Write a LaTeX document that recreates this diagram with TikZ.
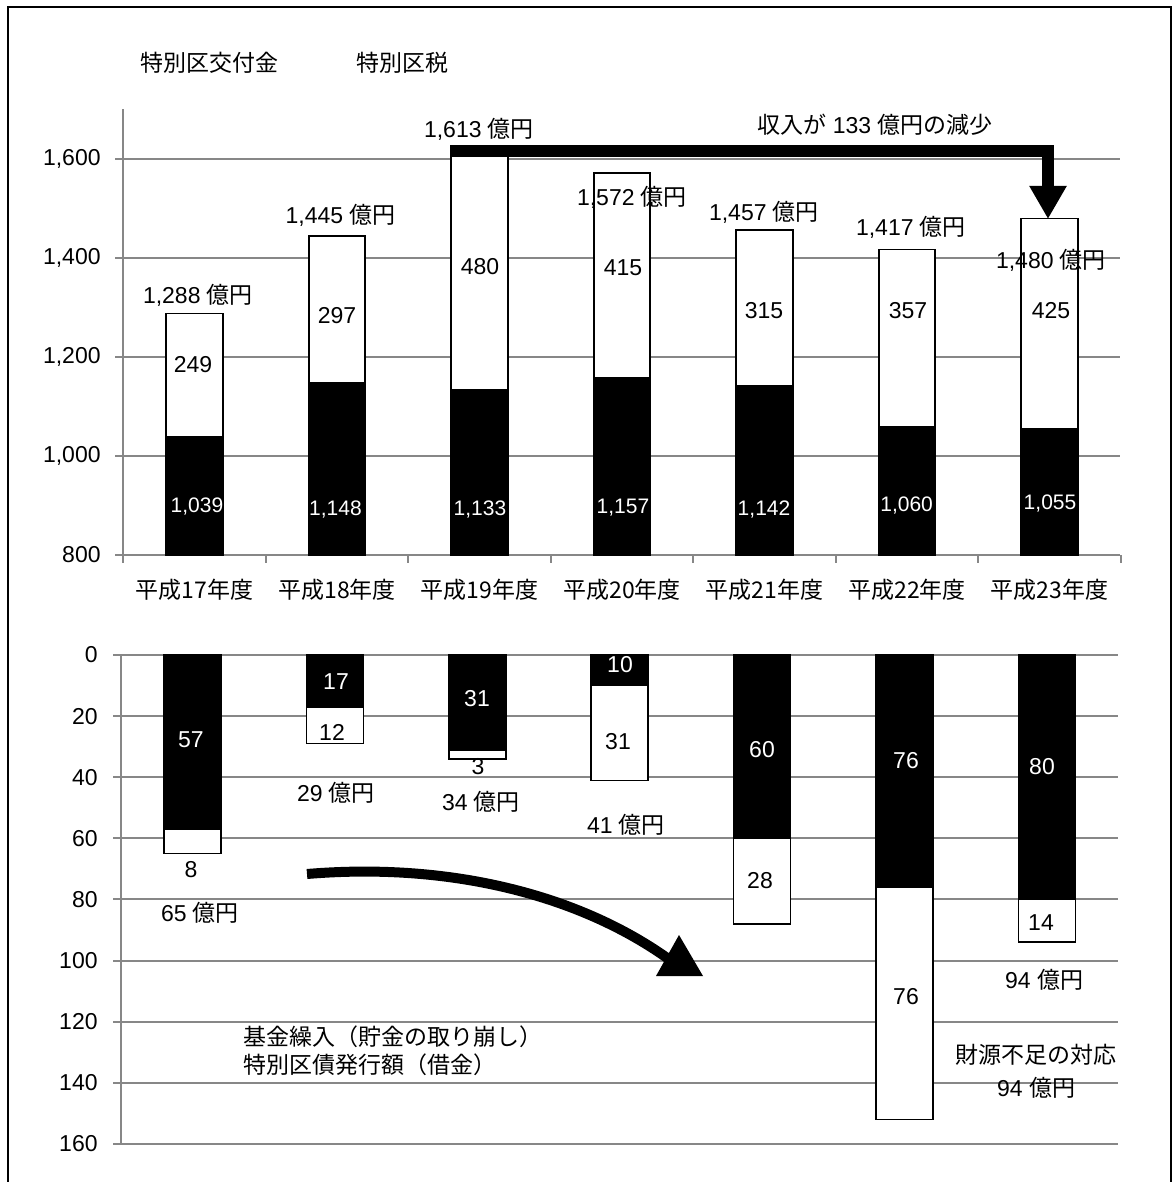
\documentclass[tikz,border=0pt]{standalone}
\usepackage{fontspec}
\setmainfont{Liberation Sans}
\newfontfamily\jp{Noto Sans CJK JP}
\usetikzlibrary{arrows.meta}
\tikzset{
  gridline/.style={draw=black!47, line width=1pt},
  lbl/.style={inner sep=0pt, font=\fontsize{11.5}{13}\selectfont},
  wlbl/.style={lbl, text=white},
  wsmall/.style={inner sep=0pt, text=white, font=\fontsize{10.5}{12}\selectfont},
  whitebar/.style={fill=white, draw=black, line width=0.8pt},
  blackbar/.style={fill=black, draw=black, line width=0.8pt},
}
\begin{document}
\begin{tikzpicture}[x=0.5pt, y=-0.5pt]
  \useasboundingbox (0,0) rectangle (1173,1182);
  % frame
  \draw[line width=1pt] (8,1182) -- (8,7) -- (1171,7) -- (1171,1182);
  % legend
  \node[lbl, anchor=west] (leg1) at (140,63) {\jp 特別区交付金};
  \node[lbl, anchor=west] (leg2) at (356,63) {\jp 特別区税};

  % upper chart: axes and grid
  \foreach \v/\t in {800/800, 1000/{1,000}, 1200/{1,200}, 1400/{1,400}, 1600/{1,600}} {
    \draw[gridline] (115,{555-(\v-800)*0.495}) -- (1120,{555-(\v-800)*0.495});
    \node[lbl, anchor=east] (u\v) at (101,{555-(\v-800)*0.495}) {\t};
  }
  \draw[gridline] (123,109.5) -- (123,563);
  \foreach \k in {1,...,7}
    \draw[gridline] ({123+142.5*\k},555) -- ++(0,8);

  % upper chart: bars
  \foreach \i/\b/\t/\n in {0/1039/1288/17, 1/1148/1445/18, 2/1133/1613/19,
      3/1157/1572/20, 4/1142/1457/21, 5/1060/1417/22, 6/1055/1480/23} {
    \pgfmathsetmacro\cx{194.5+142.5*\i}
    \draw[blackbar] ({\cx-28.25},555) rectangle ({\cx+28.25},{555-(\b-800)*0.495});
    \draw[whitebar] ({\cx-28.25},{555-(\b-800)*0.495}) rectangle ({\cx+28.25},{555-(\t-800)*0.495});
    \node[lbl] (c\i) at (\cx,590) {\jp 平成\n 年度};
  }
  \foreach \x/\y/\t [count=\n] in {193/365/249, 337/316/297, 480/267/480, 623/268/415,
      764/311/315, 908/311/357, 1051/311/425}
    \node[lbl] (w\n) at (\x,\y) {\t};
  \foreach \x/\y/\t [count=\n] in {197/507/{1,039}, 335.5/510/{1,148}, 480/510/{1,133},
      623/508/{1,157}, 764/510/{1,142}, 906.6/506/{1,060}, 1050/504/{1,055}}
    \node[wsmall] (b\n) at (\x,\y) {\t};
  \foreach \x/\y/\t [count=\n] in {198/295/{1,288}, 340.6/215/{1,445}, 479/129/{1,613},
      632/197/{1,572}, 764/212/{1,457}, 911/227/{1,417}, 1051/260/{1,480}}
    \node[lbl] (t\n) at (\x,\y) {\t\ {\jp 億円}};

  % decrease arrow
  \coordinate (a0) at (450,151);
  \coordinate (a1) at (1048,151);
  \coordinate (a2) at (1048,219);
  \draw[line width=5.75pt, -{Triangle[width=17.5pt, length=16.5pt]}] (a0) -- (a1) -- (a2);
  \node[lbl] (dec) at (875,125) {{\jp 収入が} 133 {\jp 億円の減少}};

  % lower chart: axes and grid
  \foreach \v in {0,20,...,160} {
    \draw[gridline] (113,{655+\v*3.056}) -- (1118,{655+\v*3.056});
    \node[lbl, anchor=east] (l\v) at (98,{655+\v*3.056}) {\v};
  }
  \draw[gridline] (121,655) -- (121,1144);

  % lower chart: bars
  \foreach \i/\b/\w in {0/57/8, 1/17/12, 2/31/3, 3/10/31, 4/60/28, 5/76/76, 6/80/14} {
    \pgfmathsetmacro\cx{192.5+142.4*\i}
    \draw[blackbar] ({\cx-28.5},655) rectangle ({\cx+28.5},{655+\b*3.056});
    \draw[whitebar] ({\cx-28.5},{655+\b*3.056}) rectangle ({\cx+28.5},{655+(\b+\w)*3.056});
  }
  \foreach \x/\y/\t [count=\n] in {191/740/57, 336/682/17, 477/699/31, 620/665/10,
      762/750/60, 906/761/76, 1042/767/80}
    \node[wlbl] (f\n) at (\x,\y) {\t};
  \foreach \x/\y/\t [count=\n] in {191/870/8, 332/732/12, 478/767/3, 618/742/31,
      760/881/28, 906/997/76, 1041/923/14}
    \node[lbl] (d\n) at (\x,\y) {\t};
  \foreach \x/\y/\t [count=\n] in {200/913/65, 336/793/29, 481/802/34, 626/825/41, 1044/980/94}
    \node[lbl] (s\n) at (\x,\y) {\t\ {\jp 億円}};

  % curved arrow
  \coordinate (k0) at (307,874);
  \coordinate (k1) at (670,960);
  \draw[line width=5pt] (k0) .. controls (450,862) and (580,895) .. (k1);
  \fill (679,935) -- (656,976) -- (703,976) -- cycle;

  % notes
  \node[lbl, anchor=west] (note1) at (243,1037) {\jp 基金繰入（貯金の取り崩し）};
  \node[lbl, anchor=west] (note2) at (243,1065) {\jp 特別区債発行額（借金）};
  \node[lbl] (gap1) at (1036,1055) {\jp 財源不足の対応};
  \node[lbl] (gap2) at (1036,1088) {94 {\jp 億円}};
\end{tikzpicture}
\end{document}
